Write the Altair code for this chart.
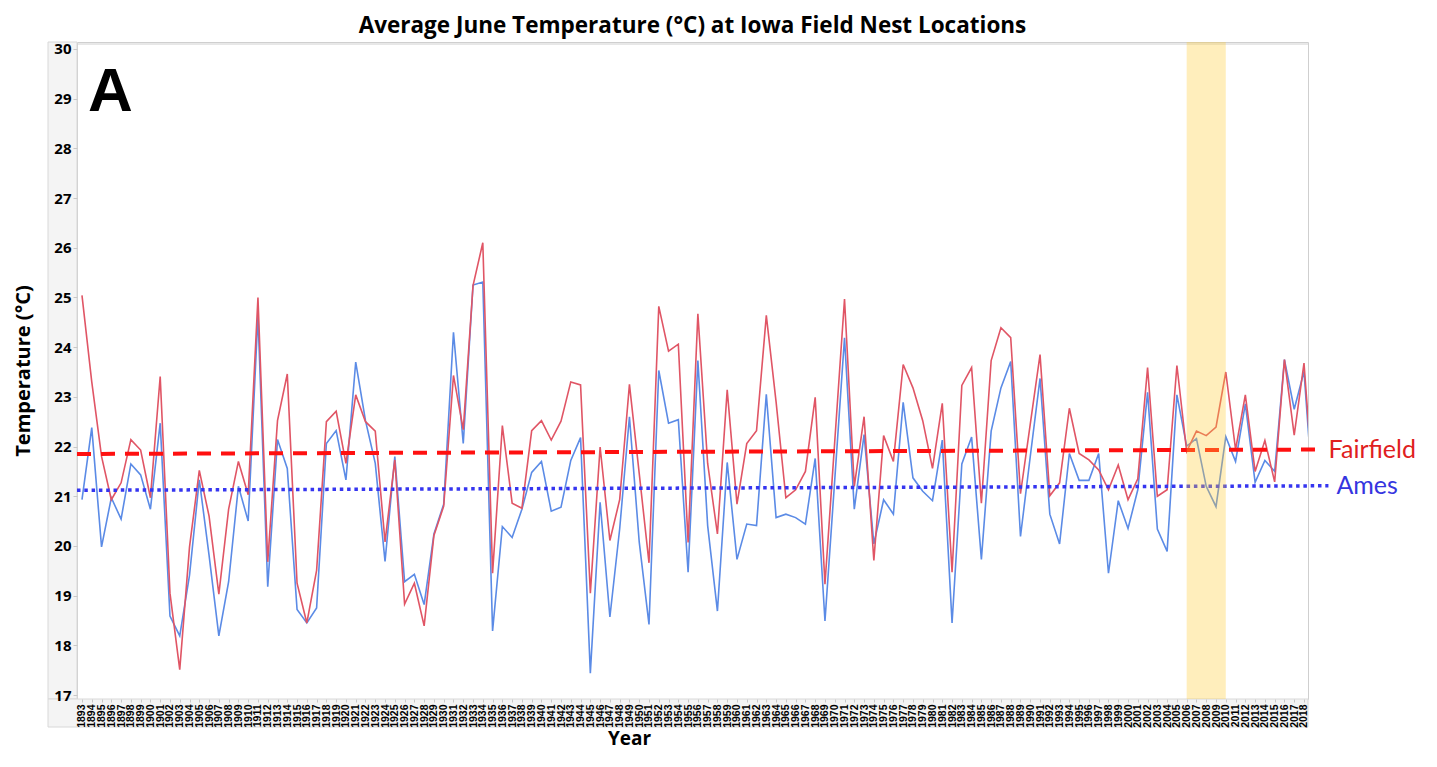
import altair as alt
import pandas as pd

# ---------------- data ----------------
years = list(range(1893, 2020))

fairfield = [
    25.04, 23.30, 21.80, 20.93, 21.27, 22.14, 21.93, 20.97, 23.41, 19.05,
    17.51, 19.98, 21.52, 20.60, 19.03, 20.74, 21.70, 21.03, 25.00, 19.68,
    22.52, 23.46, 19.25, 18.45, 19.51, 22.50, 22.71, 21.66, 23.04, 22.50,
    22.31, 20.08, 21.73, 18.83, 19.25, 18.39, 20.21, 20.80, 23.43, 22.34,
    25.24, 26.10, 19.45, 22.42, 20.86, 20.76, 22.32, 22.52, 22.13, 22.51,
    23.30, 23.24, 19.05, 21.99, 20.11, 20.93, 23.25, 21.46, 19.66, 24.82,
    23.92, 24.06, 20.07, 24.67, 21.66, 20.24, 23.14, 20.84, 22.06, 22.32,
    24.64, 22.90, 20.97, 21.13, 21.50, 22.99, 19.23, 22.10, 24.97, 21.20,
    22.60, 19.71, 22.22, 21.70, 23.65, 23.18, 22.52, 21.56, 22.87, 19.47,
    23.23, 23.59, 20.86, 23.73, 24.39, 24.19, 21.05, 22.45, 23.85, 21.01,
    21.27, 22.77, 21.86, 21.73, 21.53, 21.13, 21.63, 20.93, 21.35, 23.59,
    21.00, 21.13, 23.63, 21.90, 22.31, 22.22, 22.39, 23.50, 21.94, 23.04,
    21.50, 22.12, 21.29, 23.75, 22.23, 23.68, 21.00,
]

ames = [
    20.93, 22.38, 19.98, 20.97, 20.54, 21.65, 21.43, 20.74, 22.47, 18.59,
    18.19, 19.41, 21.33, 19.81, 18.19, 19.28, 21.20, 20.50, 24.64, 19.18,
    22.14, 21.56, 18.72, 18.45, 18.75, 22.06, 22.32, 21.33, 23.70, 22.52,
    21.66, 19.69, 21.80, 19.28, 19.43, 18.82, 20.24, 20.84, 24.30, 22.06,
    25.25, 25.31, 18.29, 20.39, 20.17, 20.74, 21.48, 21.70, 20.70, 20.78,
    21.72, 22.18, 17.44, 20.88, 18.57, 20.34, 22.60, 20.08, 18.42, 23.53,
    22.47, 22.54, 19.47, 23.73, 20.41, 18.69, 21.68, 19.73, 20.44, 20.41,
    23.05, 20.57, 20.64, 20.57, 20.44, 21.76, 18.49, 21.33, 24.19, 20.74,
    22.24, 20.04, 20.93, 20.64, 22.89, 21.37, 21.10, 20.91, 22.13, 18.45,
    21.65, 22.19, 19.73, 22.31, 23.18, 23.71, 20.19, 21.80, 23.37, 20.64,
    20.04, 21.86, 21.32, 21.32, 21.86, 19.45, 20.91, 20.35, 21.13, 23.09,
    20.34, 19.89, 23.04, 22.01, 22.16, 21.20, 20.79, 22.20, 21.70, 22.86,
    21.28, 21.72, 21.50, 23.75, 22.75, 23.51, 20.80,
]

tick_years = list(range(1893, 2019))
y_ticks = [17 + 0.5 * k for k in range(27)]

fair_trend_years = [1892.49, 2019.7]
fair_trend_vals = [21.85, 21.94]
ames_trend_years = [1892.49, 2020.5]
ames_trend_vals = [21.12, 21.21]

band_start = [2006]
band_end = [2010]

series_names = ["Fairfield", "Ames"]

# ---------------- chart ----------------
W, H = 1231, 657
RED_LINE = "#E05565"
BLUE_LINE = "#5B8BE6"
RED_TREND = "#FF1010"
BLUE_TREND = "#3535F0"

df = pd.DataFrame({"Year": years, "Fairfield": fairfield, "Ames": ames})

x_scale = alt.Scale(domain=[1892.49, 2018.41], nice=False, zero=False)
y_scale = alt.Scale(domain=[16.92, 30.14], nice=False, zero=False)

x_axis = alt.Axis(
    title="Year", values=tick_years, format="d", labelAngle=270,
    labelFont="Liberation Sans", labelFontWeight="bold", labelFontSize=10.5,
    labelColor="#000000", labelOverlap=False, labelFlush=False, labelPadding=2,
    labelSeparation=0,
    tickSize=3, tickColor="#c8c8c8", domain=False, grid=False,
    titleFont="Open Sans", titleFontSize=19, titleFontWeight="bold",
    titleColor="#000000", titlePadding=2, titleX=552, zindex=1,
)
y_axis = alt.Axis(
    title="Temperature (°C)", values=y_ticks, format="d",
    labelExpr="datum.value % 1 == 0 ? datum.label : ''",
    labelFont="Open Sans", labelFontWeight="bold", labelFontSize=15,
    labelColor="#000000", labelPadding=2, tickSize=4, tickColor="#c8c8c8",
    domain=False, grid=False,
    titleFont="Open Sans", titleFontSize=20, titleFontWeight="bold",
    titleColor="#000000", titlePadding=20, zindex=1,
)

one = pd.DataFrame({"k": [0]})

y_strip = alt.Chart(one).mark_rect(color="#f4f4f4", stroke="#d8d8d8", strokeWidth=1).encode(
    x=alt.value(-29), x2=alt.value(0), y=alt.value(0), y2=alt.value(H)
)
x_strip = alt.Chart(one).mark_rect(color="#f4f4f4", stroke="#d8d8d8", strokeWidth=1).encode(
    x=alt.value(-29), x2=alt.value(W), y=alt.value(H), y2=alt.value(H + 28)
)
top_rule = alt.Chart(one).mark_rule(color="#d0d0d0", strokeWidth=1).encode(
    x=alt.value(0), x2=alt.value(W), y=alt.value(2)
)

red_line = alt.Chart(df).mark_line(color=RED_LINE, strokeWidth=1.6, clip=True).encode(
    x=alt.X("Year:Q", scale=x_scale, axis=x_axis),
    y=alt.Y("Fairfield:Q", scale=y_scale, axis=y_axis),
)
blue_line = alt.Chart(df).mark_line(color=BLUE_LINE, strokeWidth=1.6, clip=True).encode(
    x=alt.X("Year:Q", scale=x_scale, axis=x_axis),
    y=alt.Y("Ames:Q", scale=y_scale, axis=y_axis),
)

fair_tr = pd.DataFrame({"Year": fair_trend_years, "v": fair_trend_vals})
ames_tr = pd.DataFrame({"Year": ames_trend_years, "v": ames_trend_vals})

fair_trend = alt.Chart(fair_tr).mark_line(
    color=RED_TREND, strokeWidth=4, strokeDash=[14, 10], clip=False
).encode(x=alt.X("Year:Q", scale=x_scale, axis=x_axis), y=alt.Y("v:Q", scale=y_scale, axis=y_axis))
ames_trend = alt.Chart(ames_tr).mark_line(
    color=BLUE_TREND, strokeWidth=3.5, strokeDash=[3.5, 3.8], clip=False
).encode(x=alt.X("Year:Q", scale=x_scale, axis=x_axis), y=alt.Y("v:Q", scale=y_scale, axis=y_axis))

fair_lbl_df = pd.DataFrame({"Year": [fair_trend_years[-1]], "v": [fair_trend_vals[-1]], "t": [series_names[0]]})
ames_lbl_df = pd.DataFrame({"Year": [ames_trend_years[-1]], "v": [ames_trend_vals[-1]], "t": [series_names[1]]})

fair_lbl = alt.Chart(fair_lbl_df).mark_text(
    align="left", baseline="middle", dx=8, font="Lato", fontSize=25, color="#E02020", clip=False
).encode(x=alt.X("Year:Q", scale=x_scale, axis=x_axis), y=alt.Y("v:Q", scale=y_scale, axis=y_axis), text="t:N")
ames_lbl = alt.Chart(ames_lbl_df).mark_text(
    align="left", baseline="middle", dx=8, font="Lato", fontSize=25, color="#3535E0", clip=False
).encode(x=alt.X("Year:Q", scale=x_scale, axis=x_axis), y=alt.Y("v:Q", scale=y_scale, axis=y_axis), text="t:N")

band_df = pd.DataFrame({"s": band_start, "e": band_end})
band = alt.Chart(band_df).mark_rect(color="#FFCC33", opacity=0.33).encode(
    x=alt.X("s:Q", scale=x_scale, axis=x_axis), x2="e:Q"
)

panel_a = alt.Chart(one).mark_text(
    text="A", align="left", baseline="alphabetic", font="Liberation Sans",
    fontWeight="bold", fontSize=62, color="#000000"
).encode(x=alt.value(11), y=alt.value(69))

chart = alt.layer(
    y_strip, x_strip, top_rule,
    blue_line, red_line, fair_trend, ames_trend, band,
    fair_lbl, ames_lbl, panel_a,
).properties(
    width=W, height=H,
    padding={"left": 5, "top": 7, "right": 5, "bottom": 5},
    title=alt.TitleParams(
        "Average June Temperature (°C) at Iowa Field Nest Locations",
        font="Open Sans", fontSize=22.5, fontWeight="bold", color="#000000",
        anchor="middle", frame="group", offset=4,
    ),
).configure_view(stroke="#cfcfcf", strokeWidth=1
).configure_axisX(labelOverlap=False, labelSeparation=0)

chart.save("out.html", embed_options={"renderer": "svg", "actions": False})
